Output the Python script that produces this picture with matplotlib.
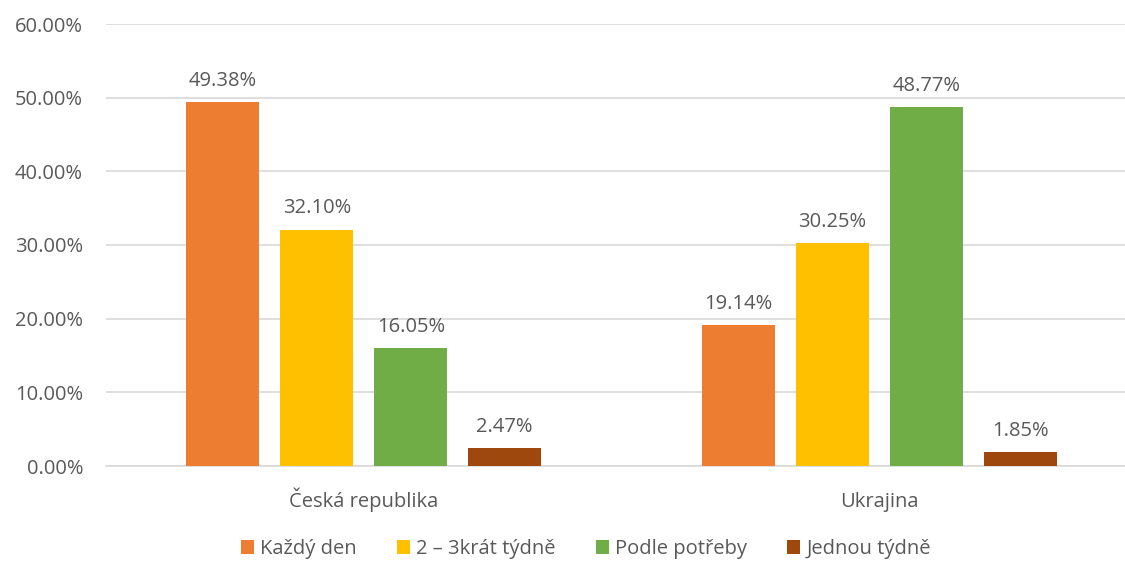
import numpy as np
import matplotlib
matplotlib.use("Agg")
import matplotlib.pyplot as plt

# data
countries = ["Česká republika", "Ukrajina"]
series = ["Každý den", "2 – 3krát týdně", "Podle potřeby", "Jednou týdně"]
values = [
    [49.38, 19.14],
    [32.10, 30.25],
    [16.05, 48.77],
    [2.47, 1.85],
]
colors = ["#ED7D31", "#FFC000", "#70AD47", "#9E480E"]
yticks = [0, 10, 20, 30, 40, 50, 60]

txt = "#595959"
fs = 14.5
plt.rcParams["font.family"] = ["Open Sans", "DejaVu Sans"]

W, H = 1125, 562
fig = plt.figure(figsize=(W / 100, H / 100), dpi=100)
# axes in pixel coords: left 106, right 1137 (cut off by figure), y 0% at 466, 60% at 24
ax = fig.add_axes([106 / W, (H - 466) / H, (1137 - 106) / W, (466 - 24) / H])

x = np.arange(len(countries))
width = 0.1416
step = 0.1823
for i, (name, vals) in enumerate(zip(series, values)):
    pos = x + (i - 1.5) * step
    bars = ax.bar(pos, vals, width, color=colors[i], label=name, zorder=3)
    for b, v in zip(bars, vals):
        ax.annotate(f"{v:.2f}%", (b.get_x() + b.get_width() / 2, v),
                    xytext=(0, 8), textcoords="offset points",
                    ha="center", va="bottom", fontsize=fs, color=txt)

ax.set_xlim(-0.5, 1.5)
ax.set_ylim(0, 60)
ax.set_yticks(yticks)
ax.set_yticklabels([f"{t:.2f}%" for t in yticks])
ax.set_xticks(x)
ax.set_xticklabels([])
ax.tick_params(axis="both", length=0, labelsize=fs, colors=txt)
ax.tick_params(axis="y", pad=16.5)
# category labels on a common baseline
for xi, c in zip(x, countries):
    ax.text(xi, -5.5, c, ha="center", va="baseline", fontsize=fs, color=txt)
ax.grid(axis="y", color="#D9D9D9", linewidth=1.2, zorder=0)
for s in ["top", "right", "left"]:
    ax.spines[s].set_visible(False)
ax.spines["bottom"].set_color("#D9D9D9")
ax.spines["bottom"].set_linewidth(1.2)

fig.legend(loc="center", bbox_to_anchor=(586 / W, 1 - 549 / H), ncol=4,
           frameon=False, fontsize=fs, labelcolor=txt,
           handlelength=0.65, handleheight=0.65, handletextpad=0.3,
           columnspacing=2.0)

fig.savefig("out.png", dpi=100)
